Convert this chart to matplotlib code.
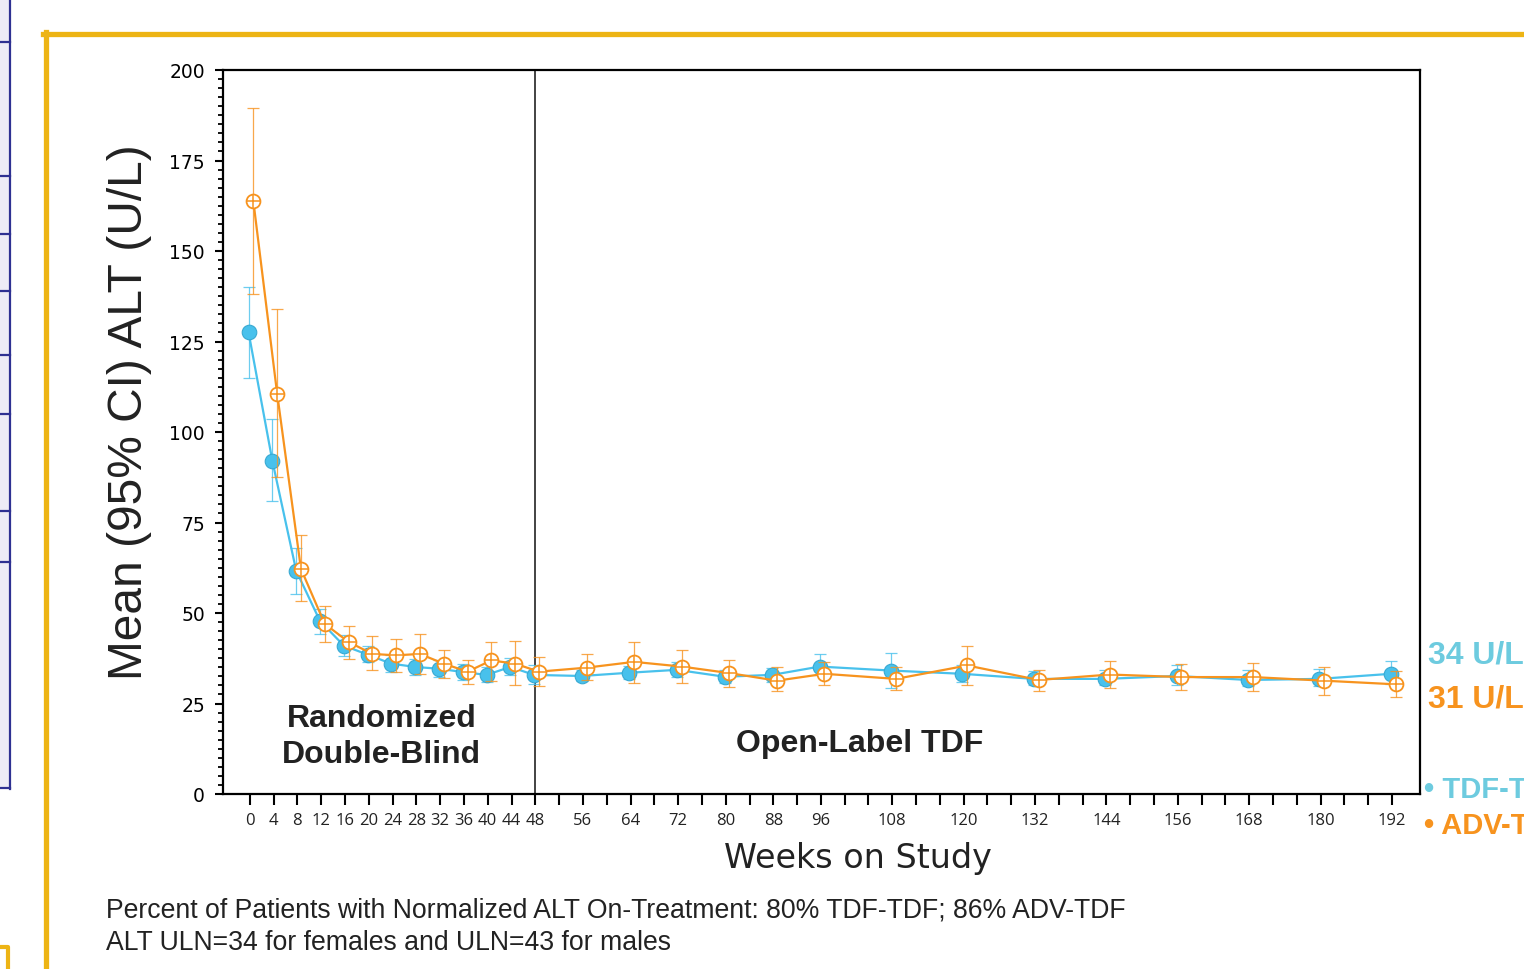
"""
Mean ALT over time, TDF-TDF vs ADV-TDF, with 95% CI error bars.
"""

import numpy as np
import matplotlib
matplotlib.use("Agg")
import matplotlib.pyplot as plt
from matplotlib.lines import Line2D
from matplotlib.patches import Rectangle

weeks = [0, 4, 8, 12, 16, 20, 24, 28, 32, 36, 40, 44, 48,
         56, 64, 72, 80, 88, 96, 108, 120, 132, 144, 156, 168, 180, 192]

tdf_mean = [127.5, 92.0, 61.7, 47.8, 41.0, 38.5, 36.0, 35.1, 34.6, 33.7, 32.9, 35.1, 32.9,
            32.6, 33.5, 34.3, 32.4, 32.9, 35.2, 34.1, 33.2, 31.8, 31.8, 32.6, 31.5, 31.8, 33.2]
tdf_lo = [115.0, 81.0, 55.3, 44.3, 38.2, 36.5, 33.8, 33.0, 32.3, 31.5, 31.0, 32.8, 30.5,
          31.2, 31.8, 32.3, 30.8, 31.0, 33.0, 29.3, 31.0, 30.0, 30.0, 30.2, 29.7, 29.9, 30.5]
tdf_hi = [140.0, 103.5, 68.0, 51.2, 43.8, 41.0, 38.3, 37.4, 37.0, 36.0, 35.0, 37.5, 35.5,
          34.2, 35.3, 36.5, 34.2, 34.9, 38.7, 39.0, 35.6, 34.0, 34.2, 35.5, 34.2, 34.4, 36.8]

adv_mean = [163.8, 110.6, 62.2, 47.0, 42.0, 38.7, 38.3, 38.7, 36.0, 33.8, 36.9, 36.0, 33.8,
            34.9, 36.5, 35.2, 33.4, 31.3, 33.2, 31.8, 35.5, 31.5, 33.0, 32.3, 32.3, 31.3, 30.3]
adv_lo = [138.0, 87.7, 53.4, 42.0, 37.3, 34.3, 33.8, 33.2, 32.1, 30.4, 31.3, 30.0, 29.8,
          31.5, 30.7, 30.7, 29.6, 28.5, 30.0, 28.8, 30.2, 28.5, 29.3, 28.8, 28.5, 27.4, 26.8]
adv_hi = [189.5, 134.0, 71.6, 52.0, 46.3, 43.7, 42.9, 44.1, 39.9, 37.1, 42.0, 42.3, 37.8,
          38.7, 42.1, 39.8, 37.0, 35.0, 36.5, 35.0, 41.0, 34.3, 36.8, 36.0, 36.2, 35.0, 34.0]

tick_weeks = list(range(0, 193, 4))
label_weeks = [0, 4, 8, 12, 16, 20, 24, 28, 32, 36, 40, 44, 48,
               56, 64, 72, 80, 88, 96, 108, 120, 132, 144, 156, 168, 180, 192]

BLUE = "#48C1EC"
BLUE_TXT = "#6DCBDF"
ORANGE = "#F7931E"
YELLOW = "#EDB414"
NAVY = "#2E3192"
INK = "#222222"

W, H = 1524, 970
fig = plt.figure(figsize=(W / 100, H / 100), dpi=100)
ax = fig.add_axes([223 / W, 1 - 795 / H, (1420 - 223) / W, (795 - 71) / H])

x = np.array(weeks, dtype=float)
tm, tl, th = map(np.array, (tdf_mean, tdf_lo, tdf_hi))
am, al, ah = map(np.array, (adv_mean, adv_lo, adv_hi))

ax.errorbar(x - 0.2, tm, yerr=[tm - tl, th - tm], fmt="none", ecolor=BLUE,
            elinewidth=0.9, capsize=4.5, capthick=0.9, alpha=0.8, zorder=2)
ax.plot(x - 0.2, tm, color=BLUE, lw=1.6, marker="o", ms=10.5,
        mfc=BLUE, mec="#38A9D2", mew=0.8, zorder=3)

ax.errorbar(x + 0.6, am, yerr=[am - al, ah - am], fmt="none", ecolor=ORANGE,
            elinewidth=0.9, capsize=4.5, capthick=0.9, alpha=0.8, zorder=4)
ax.plot(x + 0.6, am, color=ORANGE, lw=1.6, marker="o", ms=10,
        mfc="white", mec=ORANGE, mew=1.3, zorder=5)
ax.plot(x + 0.6, am, ls="none", marker="+", ms=10, mec=ORANGE, mew=1.1, zorder=6)

ax.axvline(48, color=INK, lw=1.2, zorder=1)

ax.set_xlim(-4.5, 196.7)
ax.set_ylim(0, 200)
ax.set_xticks(tick_weeks)
ax.set_xticklabels([str(w) if w in label_weeks else "" for w in tick_weeks],
                   fontsize=12, family="Open Sans", color=INK)
ax.set_yticks(np.arange(0, 201, 25))
ax.set_yticks(np.arange(0, 200.1, 2.5), minor=True)
ax.tick_params(axis="x", direction="out", length=8, width=1.5, pad=5)
ax.tick_params(axis="y", which="major", direction="out", length=6, width=1.5,
               labelsize=13.5, pad=7)
ax.tick_params(axis="y", which="minor", direction="out", length=3.5, width=1.3)
for s in ax.spines.values():
    s.set_linewidth(1.6)

ax.set_ylabel("Mean (95% CI) ALT (U/L)", fontsize=34.5, family="Liberation Sans",
              color=INK)
ax.yaxis.set_label_coords(-71 / (1420 - 223), (795 - 412) / (795 - 71))
ax.set_xlabel("Weeks on Study", fontsize=24, family="DejaVu Sans", color=INK)
ax.xaxis.set_label_coords((858 - 223) / (1420 - 223), -(842 - 795) / (795 - 71))

ax.text(22.2, 16, "Randomized\nDouble-Blind", ha="center", va="center",
        fontsize=23, fontweight="bold", family="Liberation Sans",
        linespacing=1.25, color=INK)
ax.text(102.5, 14, "Open-Label TDF", ha="center", va="center",
        fontsize=23, fontweight="bold", family="Liberation Sans", color=INK)

# right-hand annotations, cut by the slide edge as in the source
fig.text(1428 / W, 1 - 655 / H, "34 U/L", color=BLUE_TXT, fontsize=23,
         fontweight="bold", family="Liberation Sans", va="center")
fig.text(1428 / W, 1 - 700 / H, "31 U/L", color=ORANGE, fontsize=23,
         fontweight="bold", family="Liberation Sans", va="center")
fig.text(1424 / W, 1 - 790 / H, "• TDF-TDF", color=BLUE_TXT, fontsize=21,
         fontweight="bold", family="Liberation Sans", va="center")
fig.text(1424 / W, 1 - 826 / H, "• ADV-TDF", color=ORANGE, fontsize=21,
         fontweight="bold", family="Liberation Sans", va="center")

fig.text(106 / W, 1 - 911 / H,
         "Percent of Patients with Normalized ALT On-Treatment: 80% TDF-TDF; 86% ADV-TDF",
         fontsize=19.2, family="Liberation Sans", va="center", color=INK)
fig.text(106 / W, 1 - 943 / H, "ALT ULN=34 for females and ULN=43 for males",
         fontsize=19.2, family="Liberation Sans", va="center", color=INK)

# slide decorations: yellow frame, navy side panel
fig.add_artist(Line2D([43 / W, 1], [1 - 35 / H] * 2, color=YELLOW, lw=3.8))
fig.add_artist(Line2D([45.5 / W] * 2, [0, 1 - 33 / H], color=YELLOW, lw=3.8))
fig.add_artist(Line2D([0, 8 / W, 8 / W], [1 - 948 / H, 1 - 948 / H, 0],
                      color=YELLOW, lw=3))
fig.add_artist(Rectangle((0, 1 - 790 / H), 9.5 / W, 790 / H, facecolor="#EDECF6",
                         edgecolor="none", transform=fig.transFigure))
fig.add_artist(Line2D([9.5 / W] * 2, [1, 1 - 790 / H], color=NAVY, lw=1.6))
for yy in [43, 177, 235, 292, 356, 415, 512, 563, 789]:
    fig.add_artist(Line2D([0, 10 / W], [1 - yy / H] * 2, color=NAVY, lw=1.6))

fig.savefig("out.png", dpi=100)
